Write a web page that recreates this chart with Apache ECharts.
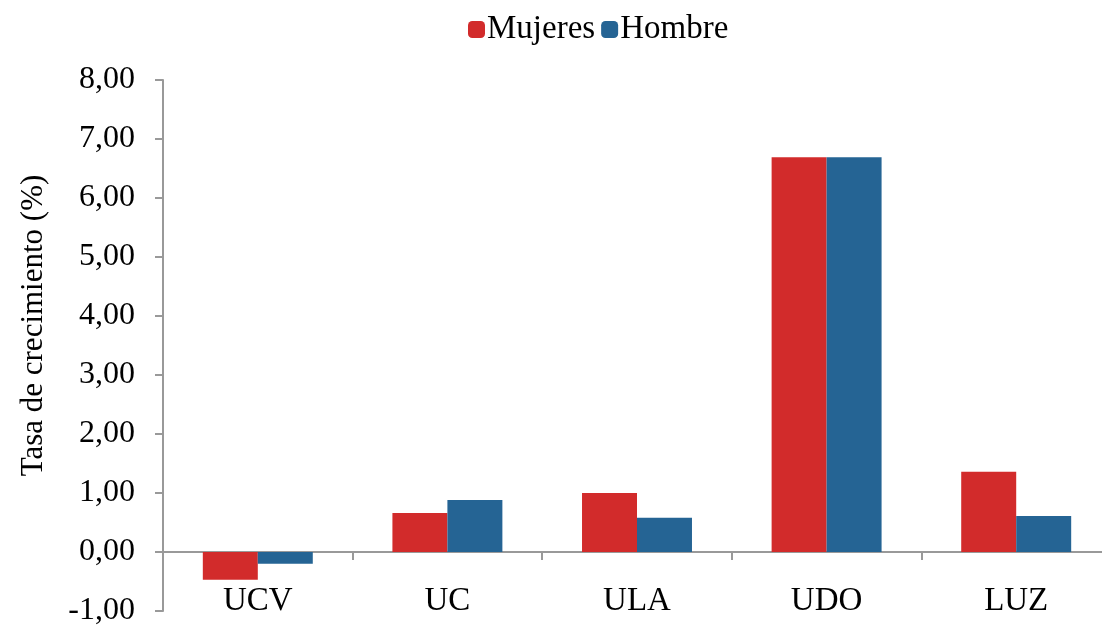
<!DOCTYPE html>
<html><head><meta charset="utf-8">
<script src="https://cdn.jsdelivr.net/npm/echarts@6/dist/echarts.min.js"></script>
<style>html,body{margin:0;padding:0;background:#fff}#c{width:1102px;height:629px}</style>
</head><body><div id="c"></div>
<script>
const categories = ['UCV', 'UC', 'ULA', 'UDO', 'LUZ'];
const mujeres = [-0.47, 0.66, 1.00, 6.69, 1.36];
const hombre = [-0.20, 0.88, 0.58, 6.69, 0.61];
const seriesNames = ['Mujeres', 'Hombre'];
const yAxisTitle = 'Tasa de crecimiento (%)';

const FONT = '"Liberation Serif", "DejaVu Serif", serif';
const chart = echarts.init(document.getElementById('c'));
chart.setOption({
  animation: false,
  textStyle: { fontFamily: FONT },
  legend: {
    top: 8, left: 463,
    itemWidth: 17, itemHeight: 17, itemGap: 6,
    icon: 'roundRect',
    textStyle: { fontFamily: FONT, fontSize: 33, color: '#000', padding: [2,0,0,-3] },
    data: seriesNames
  },
  grid: { left: 163, right: -9, top: 80, bottom: 18, containLabel: false, outerBoundsMode: 'none' },
  xAxis: {
    type: 'category', data: categories,
    axisLine: { onZero: true, lineStyle: { color: '#999', width: 2 } },
    axisTick: { show: true, length: 8, lineStyle: { color: '#999', width: 2 } },
    axisLabel: { fontFamily: FONT, fontSize: 33, color: '#000', margin: -26 }
  },
  yAxis: {
    type: 'value', min: -1, max: 8, interval: 1,
    name: yAxisTitle, nameLocation: 'middle', nameGap: 114, nameRotate: 90,
    nameTextStyle: { fontFamily: FONT, fontSize: 31, color: '#000', padding: [0,0,0,40] },
    splitLine: { show: false },
    axisLine: { show: true, lineStyle: { color: '#999', width: 2 } },
    axisTick: { show: true, length: 8, lineStyle: { color: '#999', width: 2 } },
    axisLabel: { fontFamily: FONT, fontSize: 32, color: '#000', margin: 28,
      formatter: v => v.toFixed(2).replace('.', ',') }
  },
  series: [
    { name: seriesNames[0], type: 'bar', data: mujeres, barWidth: '29%', barGap: '0%',
      itemStyle: { color: '#D22B2B' } },
    { name: seriesNames[1], type: 'bar', data: hombre, barWidth: '29%', barGap: '0%',
      itemStyle: { color: '#256494' } }
  ]
});
</script></body></html>
